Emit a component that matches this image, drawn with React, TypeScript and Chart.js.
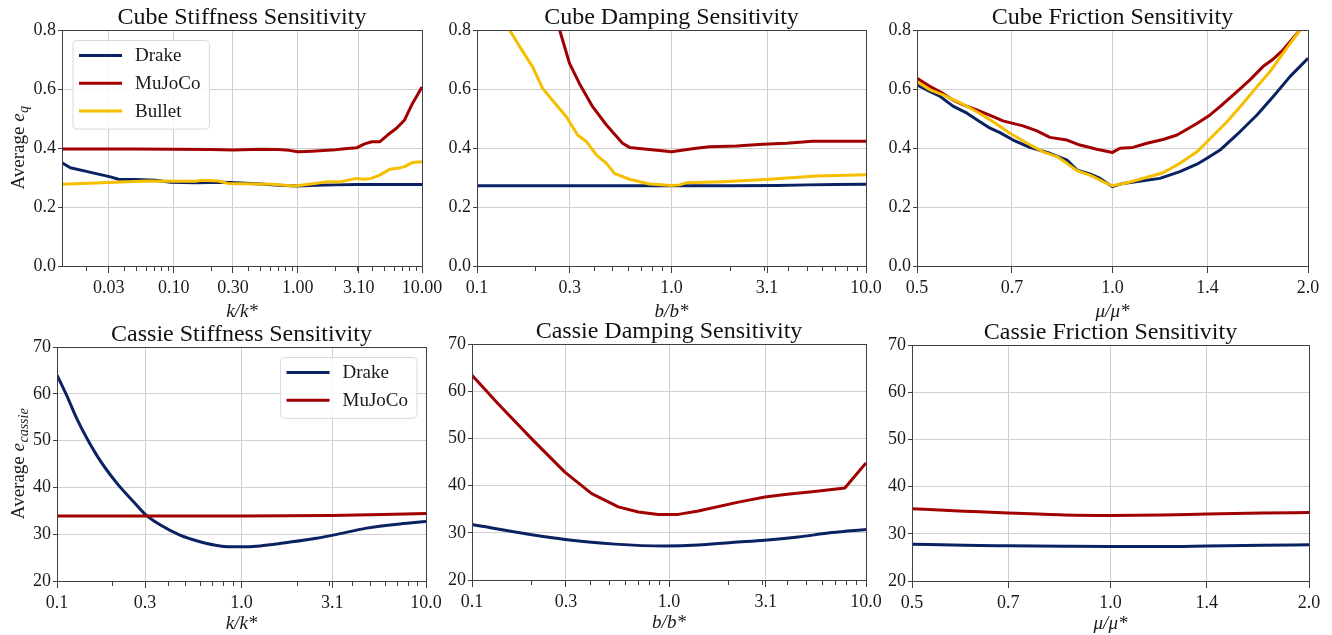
import React, { useEffect, useRef } from 'react';
import { Chart, registerables } from 'chart.js';

Chart.register(...registerables);

// ---------------- data ----------------
const simulators = ['Drake', 'MuJoCo', 'Bullet'];

// Cube stiffness (x = k/k*)
const cubeStiffDrakeX = [0.0126, 0.0147, 0.0206, 0.0309, 0.0359, 0.05, 0.071, 0.095, 0.15, 0.25, 0.35, 0.5, 0.7, 1.0, 1.4, 2.0, 3.0, 5.0, 10];
const cubeStiffDrakeY = [0.35, 0.333, 0.319, 0.302, 0.294, 0.293, 0.291, 0.284, 0.282, 0.284, 0.281, 0.278, 0.274, 0.271, 0.274, 0.275, 0.276, 0.276, 0.276];
const cubeStiffMujocoX = [0.0126, 0.05, 0.1, 0.2, 0.3, 0.5, 0.7, 0.85, 1.0, 1.3, 2.0, 2.5, 3.0, 3.45, 3.95, 4.56, 5.28, 6.23, 7.24, 8.4, 10];
const cubeStiffMujocoY = [0.397, 0.397, 0.396, 0.395, 0.393, 0.396, 0.395, 0.392, 0.387, 0.389, 0.394, 0.398, 0.401, 0.414, 0.421, 0.421, 0.444, 0.467, 0.495, 0.552, 0.607];
const cubeStiffBulletX = [0.0126, 0.03, 0.061, 0.1, 0.149, 0.169, 0.228, 0.274, 0.615, 0.946, 1.37, 1.74, 2.24, 2.96, 3.45, 3.9, 4.56, 5.5, 6.36, 7.24, 8.4, 10];
const cubeStiffBulletY = [0.277, 0.283, 0.288, 0.287, 0.287, 0.291, 0.288, 0.28, 0.277, 0.271, 0.28, 0.286, 0.286, 0.297, 0.294, 0.297, 0.308, 0.328, 0.331, 0.337, 0.351, 0.353];

// Cube damping (x = b/b*)
const cubeDampDrakeX = [0.1, 0.3, 1.0, 2.0, 3.5, 5, 7, 10];
const cubeDampDrakeY = [0.272, 0.272, 0.272, 0.272, 0.273, 0.275, 0.276, 0.277];
const cubeDampMujocoX = [0.25, 0.266, 0.299, 0.336, 0.393, 0.463, 0.56, 0.608, 0.77, 1.0, 1.34, 1.57, 2.16, 2.94, 3.9, 5.3, 10];
const cubeDampMujocoY = [0.86, 0.8, 0.687, 0.619, 0.54, 0.478, 0.416, 0.402, 0.395, 0.387, 0.399, 0.404, 0.407, 0.413, 0.416, 0.423, 0.423];
const cubeDampBulletX = [0.135, 0.147, 0.166, 0.193, 0.217, 0.256, 0.288, 0.329, 0.366, 0.412, 0.463, 0.509, 0.608, 0.771, 1.0, 1.1, 1.19, 1.83, 3.19, 5.56, 10];
const cubeDampBulletY = [0.84, 0.8, 0.743, 0.676, 0.603, 0.546, 0.506, 0.444, 0.421, 0.376, 0.348, 0.314, 0.294, 0.278, 0.273, 0.275, 0.282, 0.286, 0.294, 0.305, 0.309];

// Cube friction (x = mu/mu*)
const cubeFricDrakeX = [0.5, 0.524, 0.542, 0.568, 0.597, 0.625, 0.648, 0.671, 0.703, 0.746, 0.801, 0.851, 0.882, 0.923, 0.957, 1.0, 1.038, 1.114, 1.183, 1.27, 1.349, 1.398, 1.464, 1.571, 1.669, 1.767, 1.876, 2.0];
const cubeFricDrakeY = [0.614, 0.591, 0.576, 0.542, 0.518, 0.489, 0.467, 0.452, 0.427, 0.402, 0.382, 0.359, 0.325, 0.312, 0.297, 0.269, 0.28, 0.289, 0.297, 0.32, 0.345, 0.365, 0.393, 0.455, 0.512, 0.574, 0.642, 0.704];
const cubeFricMujocoX = [0.5, 0.524, 0.548, 0.568, 0.589, 0.618, 0.655, 0.678, 0.728, 0.765, 0.801, 0.851, 0.891, 0.946, 1.0, 1.027, 1.075, 1.13, 1.196, 1.257, 1.349, 1.413, 1.464, 1.555, 1.628, 1.705, 1.767, 1.83, 1.944, 2.0];
const cubeFricMujocoY = [0.636, 0.608, 0.585, 0.563, 0.546, 0.529, 0.506, 0.492, 0.475, 0.458, 0.436, 0.427, 0.41, 0.396, 0.385, 0.399, 0.402, 0.416, 0.429, 0.444, 0.483, 0.512, 0.54, 0.591, 0.631, 0.676, 0.701, 0.732, 0.8, 0.83];
const cubeFricBulletX = [0.5, 0.524, 0.548, 0.582, 0.618, 0.655, 0.695, 0.739, 0.782, 0.821, 0.851, 0.882, 0.923, 0.967, 1.0, 1.053, 1.102, 1.196, 1.27, 1.349, 1.398, 1.501, 1.588, 1.669, 1.748, 1.83, 1.944, 2.0];
const cubeFricBulletY = [0.625, 0.597, 0.58, 0.554, 0.523, 0.489, 0.45, 0.416, 0.387, 0.371, 0.348, 0.323, 0.308, 0.286, 0.272, 0.282, 0.294, 0.316, 0.348, 0.387, 0.421, 0.489, 0.551, 0.608, 0.659, 0.721, 0.8, 0.836];

// Cassie stiffness
const cassieStiffDrakeX = [0.1, 0.113, 0.128, 0.164, 0.211, 0.259, 0.3, 0.362, 0.464, 0.596, 0.765, 0.98, 1.26, 1.685, 2.35, 3.14, 4.77, 7.23, 10];
const cassieStiffDrakeY = [64.0, 59.6, 54.7, 46.9, 40.9, 37.0, 34.3, 32.0, 29.8, 28.4, 27.5, 27.3, 27.5, 28.1, 28.9, 29.8, 31.3, 32.2, 32.7];
const cassieStiffMujocoX = [0.1, 0.3, 1.0, 3.1, 10];
const cassieStiffMujocoY = [33.9, 33.9, 33.9, 34.0, 34.4];

// Cassie damping
const cassieDampDrakeX = [0.1, 0.201, 0.297, 0.532, 0.954, 1.408, 2.08, 3.07, 4.53, 6.69, 10];
const cassieDampDrakeY = [31.75, 29.6, 28.6, 27.6, 27.2, 27.4, 27.95, 28.4, 29.1, 30.05, 30.7];
const cassieDampMujocoX = [0.1, 0.136, 0.201, 0.297, 0.405, 0.553, 0.699, 0.882, 1.115, 1.408, 2.25, 3.07, 3.88, 5.62, 7.81, 10];
const cassieDampMujocoY = [63.4, 57.3, 49.9, 42.8, 38.3, 35.5, 34.4, 33.9, 33.9, 34.6, 36.5, 37.6, 38.1, 38.8, 39.5, 44.8];

// Cassie friction
const cassieFricX = [0.5, 0.6, 0.7, 0.85, 1.0, 1.2, 1.4, 1.7, 2.0];
const cassieFricDrakeY = [27.8, 27.55, 27.45, 27.35, 27.3, 27.3, 27.4, 27.55, 27.7];
const cassieFricMujocoY = [35.3, 34.8, 34.4, 34.0, 33.9, 34.0, 34.2, 34.4, 34.5];

// ticks
const cubeStiffMajorTicks = [0.03, 0.1, 0.3, 1, 3.1, 10];
const cubeStiffTickLabels = ['0.03', '0.10', '0.30', '1.00', '3.10', '10.00'];
const decadeMajorTicks = [0.1, 0.3, 1, 3.1, 10];
const decadeTickLabels = ['0.1', '0.3', '1.0', '3.1', '10.0'];
const logMinorTicks = [0.02, 0.04, 0.05, 0.06, 0.07, 0.08, 0.09, 0.2, 0.3, 0.4, 0.5, 0.6, 0.7, 0.8, 0.9, 2, 3, 4, 5, 6, 7, 8, 9];
const frictionMajorTicks = [0.5, 0.7, 1, 1.4, 2];
const frictionTickLabels = ['0.5', '0.7', '1.0', '1.4', '2.0'];
const noMinorTicks: number[] = [];

// ---------------- styles ----------------
const W = 1332;
const H = 635;
const SERIF = '"Liberation Serif", "Times New Roman", Times, serif';
const COLORS = ['#0b2262', '#a00000', '#f5bf00'];
const GRID = '#cfcfcf';
const SPINE = '#404040';
const TEXT = '#1a1a1a';
const YW = 44;
const TITLE_SIZE = 24;
const TITLE_LH = 1.05;

type Series = { label: string; color: string; xs: number[]; ys: number[]; order: number; smooth: boolean };
type PanelSpec = {
  title: string;
  xTitle: string;
  ySub?: string;
  plot: { l: number; t: number; r: number; b: number };
  xAxisH: number;
  xMin: number;
  xMax: number;
  majors: number[];
  majorLabels: string[];
  minors: number[];
  yMin: number;
  yMax: number;
  yStep: number;
  yDigits: number;
  series: Series[];
  legend?: 'tl' | 'tr';
};

const mk = (i: number, xs: number[], ys: number[], smooth = false): Series => ({
  label: simulators[i], color: COLORS[i], xs, ys, order: 2 - i, smooth,
});

const panels: PanelSpec[] = [
  {
    title: 'Cube Stiffness Sensitivity', xTitle: 'k/k*', ySub: 'q',
    plot: { l: 62, t: 30, r: 422, b: 266 }, xAxisH: 57.4,
    xMin: 0.0126, xMax: 10, majors: cubeStiffMajorTicks, majorLabels: cubeStiffTickLabels, minors: logMinorTicks,
    yMin: 0, yMax: 0.8, yStep: 0.2, yDigits: 1,
    series: [mk(0, cubeStiffDrakeX, cubeStiffDrakeY), mk(1, cubeStiffMujocoX, cubeStiffMujocoY), mk(2, cubeStiffBulletX, cubeStiffBulletY)],
    legend: 'tl',
  },
  {
    title: 'Cube Damping Sensitivity', xTitle: 'b/b*',
    plot: { l: 477, t: 30, r: 866, b: 266 }, xAxisH: 57.4,
    xMin: 0.1, xMax: 10, majors: decadeMajorTicks, majorLabels: decadeTickLabels, minors: logMinorTicks,
    yMin: 0, yMax: 0.8, yStep: 0.2, yDigits: 1,
    series: [mk(0, cubeDampDrakeX, cubeDampDrakeY), mk(1, cubeDampMujocoX, cubeDampMujocoY), mk(2, cubeDampBulletX, cubeDampBulletY)],
  },
  {
    title: 'Cube Friction Sensitivity', xTitle: 'μ/μ*',
    plot: { l: 917, t: 30, r: 1308, b: 266 }, xAxisH: 57.4,
    xMin: 0.5, xMax: 2, majors: frictionMajorTicks, majorLabels: frictionTickLabels, minors: noMinorTicks,
    yMin: 0, yMax: 0.8, yStep: 0.2, yDigits: 1,
    series: [mk(0, cubeFricDrakeX, cubeFricDrakeY), mk(1, cubeFricMujocoX, cubeFricMujocoY), mk(2, cubeFricBulletX, cubeFricBulletY)],
  },
  {
    title: 'Cassie Stiffness Sensitivity', xTitle: 'k/k*', ySub: 'cassie',
    plot: { l: 57, t: 347, r: 426, b: 581 }, xAxisH: 54,
    xMin: 0.1, xMax: 10, majors: decadeMajorTicks, majorLabels: decadeTickLabels, minors: logMinorTicks,
    yMin: 20, yMax: 70, yStep: 10, yDigits: 0,
    series: [mk(0, cassieStiffDrakeX, cassieStiffDrakeY, true), mk(1, cassieStiffMujocoX, cassieStiffMujocoY, true)],
    legend: 'tr',
  },
  {
    title: 'Cassie Damping Sensitivity', xTitle: 'b/b*',
    plot: { l: 472, t: 344, r: 866, b: 580 }, xAxisH: 54,
    xMin: 0.1, xMax: 10, majors: decadeMajorTicks, majorLabels: decadeTickLabels, minors: logMinorTicks,
    yMin: 20, yMax: 70, yStep: 10, yDigits: 0,
    series: [mk(0, cassieDampDrakeX, cassieDampDrakeY, true), mk(1, cassieDampMujocoX, cassieDampMujocoY)],
  },
  {
    title: 'Cassie Friction Sensitivity', xTitle: 'μ/μ*',
    plot: { l: 912, t: 345, r: 1309, b: 581 }, xAxisH: 54,
    xMin: 0.5, xMax: 2, majors: frictionMajorTicks, majorLabels: frictionTickLabels, minors: noMinorTicks,
    yMin: 20, yMax: 70, yStep: 10, yDigits: 0,
    series: [mk(0, cassieFricX, cassieFricDrakeY, true), mk(1, cassieFricX, cassieFricMujocoY, true)],
  },
];

// ---------------- plugins ----------------
const align = (p: number) => Math.round(p - 0.5) + 0.5;

const framePlugin = {
  id: 'frame',
  afterDatasetsDraw(chart: any) {
    const { ctx, chartArea: a } = chart;
    ctx.save();
    ctx.strokeStyle = SPINE;
    ctx.lineWidth = 1;
    const l = align(a.left), r = align(a.right), t = align(a.top), b = align(a.bottom);
    ctx.strokeRect(l, t, r - l, b - t);
    ctx.restore();
  },
};

function makeLegendPlugin(corner: 'tl' | 'tr') {
  return {
    id: 'boxlegend',
    afterDatasetsDraw(chart: any) {
      const { ctx, chartArea: a } = chart;
      const ds = chart.data.datasets;
      ctx.save();
      ctx.font = `19px ${SERIF}`;
      const tw = Math.max(...ds.map((d: any) => ctx.measureText(d.label).width));
      const rowH = 27.8;
      const bw = 6 + 43 + 13 + tw + 9;
      const bh = 33 + (ds.length - 1) * rowH;
      const bx = corner === 'tl' ? a.left + 11 : a.right - 9 - bw;
      const by = a.top + 10.5;
      const rad = 4;
      ctx.beginPath();
      ctx.moveTo(bx + rad, by);
      ctx.lineTo(bx + bw - rad, by);
      ctx.arcTo(bx + bw, by, bx + bw, by + rad, rad);
      ctx.lineTo(bx + bw, by + bh - rad);
      ctx.arcTo(bx + bw, by + bh, bx + bw - rad, by + bh, rad);
      ctx.lineTo(bx + rad, by + bh);
      ctx.arcTo(bx, by + bh, bx, by + bh - rad, rad);
      ctx.lineTo(bx, by + rad);
      ctx.arcTo(bx, by, bx + rad, by, rad);
      ctx.closePath();
      ctx.fillStyle = 'rgba(255,255,255,0.85)';
      ctx.fill();
      ctx.strokeStyle = '#dadada';
      ctx.lineWidth = 1;
      ctx.stroke();
      ds.forEach((d: any, i: number) => {
        const y = by + 15 + i * rowH;
        ctx.beginPath();
        ctx.moveTo(bx + 6, y);
        ctx.lineTo(bx + 49, y);
        ctx.strokeStyle = d.borderColor;
        ctx.lineWidth = 3;
        ctx.stroke();
        ctx.fillStyle = TEXT;
        ctx.textBaseline = 'middle';
        ctx.textAlign = 'left';
        ctx.fillText(d.label, bx + 62, y + 1);
      });
      ctx.restore();
    },
  };
}

function makeYTitlePlugin(sub: string) {
  return {
    id: 'ytitle',
    afterDraw(chart: any) {
      const { ctx, chartArea: a } = chart;
      const cy = (a.top + a.bottom) / 2;
      const size = 19;
      const f1 = `${size}px ${SERIF}`;
      const f2 = `italic ${size}px ${SERIF}`;
      const f3 = `italic ${Math.round(size * 0.72)}px ${SERIF}`;
      ctx.save();
      ctx.translate(24, cy);
      ctx.rotate(-Math.PI / 2);
      ctx.font = f1;
      const w1 = ctx.measureText('Average ').width;
      ctx.font = f2;
      const w2 = ctx.measureText('e').width;
      ctx.font = f3;
      const w3 = ctx.measureText(sub).width;
      let x = -(w1 + w2 + w3) / 2;
      ctx.fillStyle = TEXT;
      ctx.textBaseline = 'alphabetic';
      ctx.textAlign = 'left';
      ctx.font = f1;
      ctx.fillText('Average ', x, 0);
      x += w1;
      ctx.font = f2;
      ctx.fillText('e', x, 0);
      x += w2 + 0.5;
      ctx.font = f3;
      ctx.fillText(sub, x, size * 0.22);
      ctx.restore();
    },
  };
}

// ---------------- config ----------------
function buildConfig(p: PanelSpec): any {
  const isMajor = (v: number) => p.majors.some((m) => Math.abs(m - v) < 1e-9);
  const labelOf = (v: number) => {
    const i = p.majors.findIndex((m) => Math.abs(m - v) < 1e-9);
    return i >= 0 ? p.majorLabels[i] : '';
  };
  const allTicks = [
    ...p.majors,
    ...p.minors.filter((v) => v > p.xMin && v < p.xMax && !isMajor(v)),
  ].sort((a, b) => a - b);
  const titleH = TITLE_SIZE * TITLE_LH;
  const plugins: any[] = [framePlugin];
  if (p.legend) plugins.push(makeLegendPlugin(p.legend));
  if (p.ySub) plugins.push(makeYTitlePlugin(p.ySub));

  return {
    type: 'line',
    data: {
      datasets: p.series.map((s) => ({
        label: s.label,
        data: s.xs.map((x, i) => ({ x, y: s.ys[i] })),
        borderColor: s.color,
        backgroundColor: s.color,
        borderWidth: 3,
        pointRadius: 0,
        pointHoverRadius: 0,
        tension: s.smooth ? 0.4 : 0,
        cubicInterpolationMode: s.smooth ? 'monotone' : 'default',
        fill: false,
        clip: 0,
        order: s.order,
        borderJoinStyle: 'round',
      })),
    },
    options: {
      responsive: false,
      maintainAspectRatio: false,
      animation: false,
      devicePixelRatio: 1,
      events: [],
      layout: {
        padding: {
          left: p.plot.l - YW,
          right: W - p.plot.r,
          top: p.plot.t - titleH,
          bottom: H - p.plot.b - p.xAxisH,
        },
      },
      plugins: {
        legend: { display: false },
        tooltip: { enabled: false },
        title: {
          display: true,
          text: p.title,
          fullSize: false,
          color: '#111111',
          padding: { top: 0, bottom: 0 },
          font: { family: SERIF, size: TITLE_SIZE, weight: 'normal', lineHeight: TITLE_LH },
        },
      },
      scales: {
        x: {
          type: 'logarithmic',
          min: p.xMin,
          max: p.xMax,
          bounds: 'data',
          afterBuildTicks: (scale: any) => {
            scale.ticks = allTicks.map((v) => ({ value: v }));
          },
          afterFit: (scale: any) => {
            scale.height = p.xAxisH;
          },
          ticks: {
            autoSkip: false,
            maxRotation: 0,
            minRotation: 0,
            padding: 4,
            color: TEXT,
            font: { family: SERIF, size: 18 },
            callback: (v: any) => labelOf(Number(v)),
          },
          grid: {
            color: (ctx: any) => (ctx.tick && isMajor(ctx.tick.value) ? GRID : 'rgba(0,0,0,0)'),
            lineWidth: 1,
            tickLength: 7,
            tickColor: SPINE,
            tickWidth: 1,
            tickBorderDash: (ctx: any) => (ctx.tick && isMajor(ctx.tick.value) ? [] : [4, 100]),
          },
          border: { display: true, color: SPINE, width: 1 },
          title: {
            display: true,
            text: p.xTitle,
            color: TEXT,
            padding: 0,
            font: { family: SERIF, size: 19, style: 'italic', lineHeight: 1.2 },
          },
        },
        y: {
          type: 'linear',
          min: p.yMin,
          max: p.yMax,
          afterFit: (scale: any) => {
            scale.width = YW;
          },
          ticks: {
            stepSize: p.yStep,
            padding: 2,
            color: TEXT,
            font: { family: SERIF, size: 18 },
            callback: (v: any) => Number(v).toFixed(p.yDigits),
          },
          grid: {
            color: GRID,
            lineWidth: 1,
            tickLength: 4,
            tickColor: SPINE,
          },
          border: { display: true, color: SPINE, width: 1 },
        },
      },
    },
    plugins,
  };
}

function Panel({ spec }: { spec: PanelSpec }) {
  const ref = useRef<HTMLCanvasElement>(null);
  useEffect(() => {
    if (!ref.current) return;
    const chart = new Chart(ref.current, buildConfig(spec));
    return () => chart.destroy();
  }, [spec]);
  return (
    <canvas
      ref={ref}
      width={W}
      height={H}
      style={{ position: 'absolute', left: 0, top: 0, width: W, height: H }}
    />
  );
}

export default function App() {
  return (
    <div style={{ position: 'absolute', left: 0, top: 0, width: W, height: H, background: '#ffffff' }}>
      {panels.map((p, i) => (
        <Panel key={i} spec={p} />
      ))}
    </div>
  );
}
